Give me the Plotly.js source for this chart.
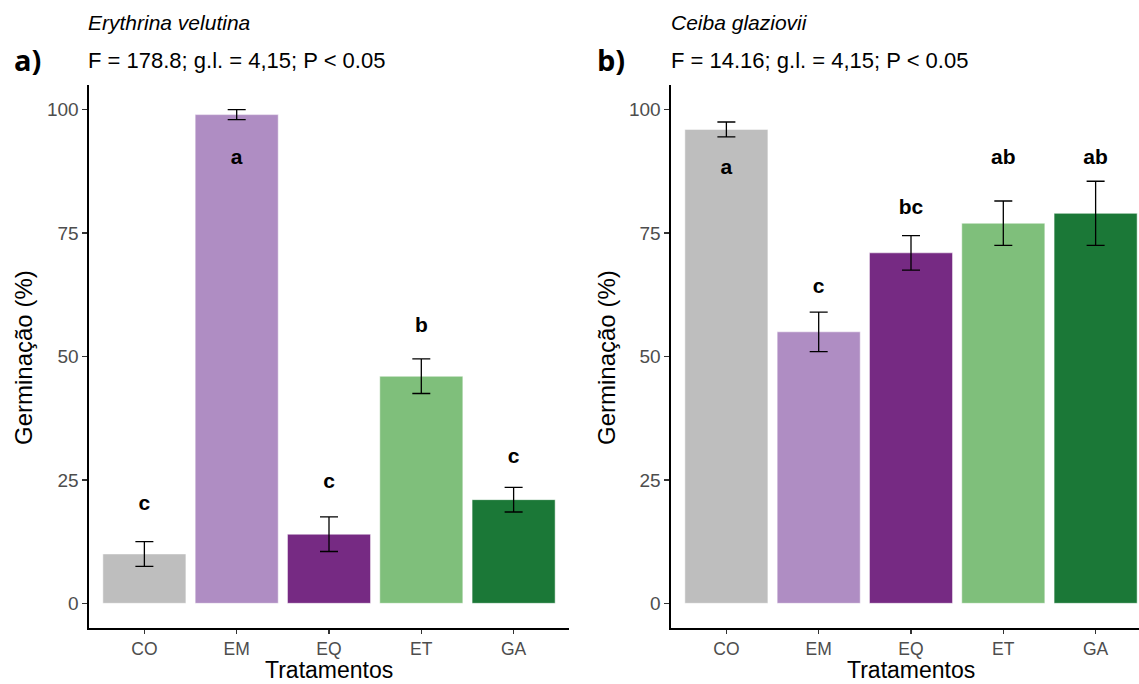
<!DOCTYPE html>
<html><head><meta charset="utf-8">
<script src="https://cdn.plot.ly/plotly-3.0.1.min.js"></script>
<style>html,body{margin:0;padding:0;background:#fff}</style>
</head><body><div id="chart" style="width:1139px;height:684px"></div>
<script>
const categories = ["CO","EM","EQ","ET","GA"];
const colors = ["#BEBEBE","#AF8DC3","#762A83","#7FBF7B","#1B7837"];
// a) Erythrina velutina
const meanA = [10, 99, 14, 46, 21];
const seA = [2.5, 1, 3.5, 3.5, 2.5];
const lettersA = ["c","a","c","b","c"];
const letterYA = [20, 90, 24.5, 56, 29.5];
// b) Ceiba glaziovii
const meanB = [96, 55, 71, 77, 79];
const seB = [1.5, 4, 3.5, 4.5, 6.5];
const lettersB = ["a","c","bc","ab","ab"];
const letterYB = [88, 64, 80, 90, 90];
const yTicks = [0, 25, 50, 75, 100];

const W = 1139, H = 684;
const px = v => v / W, py = v => 1 - v / H;
const font = "Liberation Sans, Arial, sans-serif";

function bars(mean, se, xa, ya) {
  return {
    type: "bar", x: categories, y: mean, xaxis: xa, yaxis: ya,
    width: 0.9,
    marker: {color: colors, line: {color: "rgba(255,255,255,0.5)", width: 1}},
    error_y: {type: "data", array: se, visible: true, color: "#000", thickness: 1.3, width: 9},
    hoverinfo: "skip", showlegend: false
  };
}
function letters(txt, ys, xa, ya) {
  return {
    type: "scatter", mode: "text", x: categories, y: ys, text: txt, xaxis: xa, yaxis: ya,
    textfont: {family: font, size: 21, color: "#000", weight: "bold"},
    textposition: "middle center", hoverinfo: "skip", showlegend: false
  };
}

const xaxisBase = {
  type: "category", showline: true, linecolor: "#000", linewidth: 1.6,
  ticks: "outside", ticklen: 4, tickwidth: 1.3, tickcolor: "#333",
  showgrid: false, zeroline: false,
  tickfont: {family: font, size: 17.5, color: "#4D4D4D"}
};
const yaxisBase = {
  range: [-5, 105], tickvals: yTicks, ticktext: yTicks.map(String),
  showline: true, linecolor: "#000", linewidth: 1.6,
  ticks: "outside", ticklen: 5, tickwidth: 1.3, tickcolor: "#333",
  showgrid: false, zeroline: false,
  tickfont: {family: font, size: 19, color: "#4D4D4D"}
};

function ann(text, x, y, size, extra) {
  return Object.assign({text: text, xref: "paper", yref: "paper", x: px(x), y: py(y),
    xanchor: "left", yanchor: "middle", showarrow: false,
    font: {family: font, size: size, color: "#000"}}, extra || {});
}

const layout = {
  width: W, height: H,
  margin: {l: 0, r: 0, t: 0, b: 0},
  paper_bgcolor: "#fff", plot_bgcolor: "#fff",
  bargap: 0.1,
  xaxis: Object.assign({}, xaxisBase, {domain: [px(89), px(569)], range: [-0.6, 4.6], anchor: "y"}),
  yaxis: Object.assign({}, yaxisBase, {domain: [py(628), py(85)], anchor: "x"}),
  xaxis2: Object.assign({}, xaxisBase, {domain: [px(671), 1], range: [-0.6, 4.47], anchor: "y2"}),
  yaxis2: Object.assign({}, yaxisBase, {domain: [py(628), py(85)], anchor: "x2"}),
  annotations: [
    ann("<i>Erythrina velutina</i>", 86, 22, 21),
    ann("F = 178.8; g.l. = 4,15; P &lt; 0.05", 86, 60, 22),
    ann("<b>a)</b>", 12, 59, 29, {font: {family: "Open Sans, sans-serif", size: 29, color: "#000"}}),
    ann("<i>Ceiba glaziovii</i>", 669, 22, 21),
    ann("F = 14.16; g.l. = 4,15; P &lt; 0.05", 669, 60, 22),
    ann("<b>b)</b>", 595, 59, 29, {font: {family: "Open Sans, sans-serif", size: 29, color: "#000"}}),
    ann("Tratamentos", 329, 684, 23, {xanchor: "center", yanchor: "bottom", borderpad: 0}),
    ann("Tratamentos", 911, 684, 23, {xanchor: "center", yanchor: "bottom", borderpad: 0}),
    ann("Germinação (%)", 23, 358, 24, {xanchor: "center", textangle: -90}),
    ann("Germinação (%)", 606, 358, 24, {xanchor: "center", textangle: -90})
  ]
};

const data = [
  bars(meanA, seA, "x", "y"),
  letters(lettersA, letterYA, "x", "y"),
  bars(meanB, seB, "x2", "y2"),
  letters(lettersB, letterYB, "x2", "y2")
];
Plotly.newPlot("chart", data, layout, {staticPlot: true, displayModeBar: false});
</script></body></html>
